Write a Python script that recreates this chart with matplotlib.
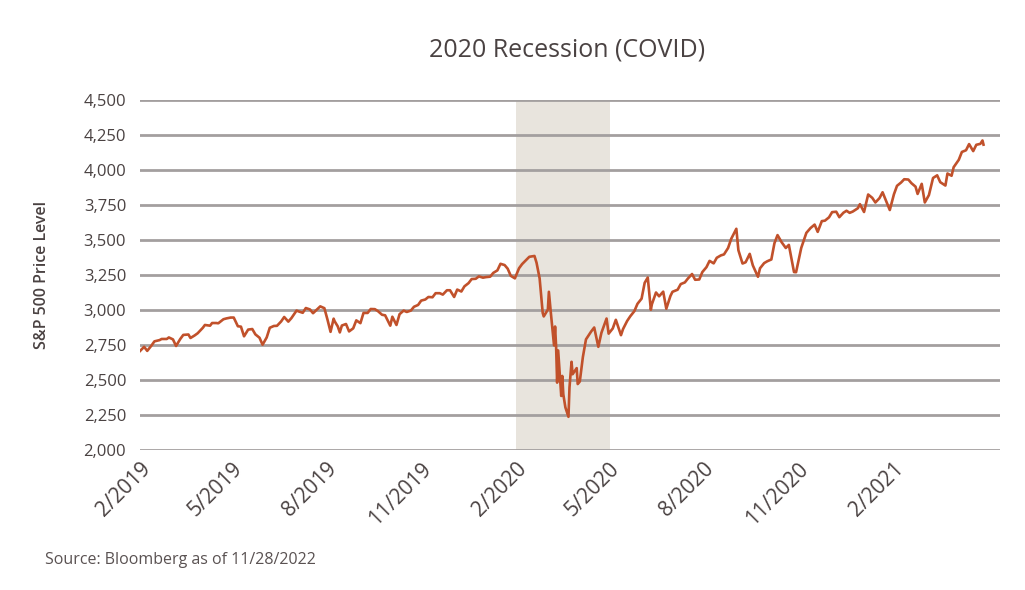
import matplotlib
matplotlib.use("Agg")
import matplotlib.pyplot as plt
import pandas as pd

# S&P 500 closes (roughly twice a week, more points around the crash)
dates = [
    "2019-02-01", "2019-02-05", "2019-02-08", "2019-02-12", "2019-02-15", "2019-02-20",
    "2019-02-22", "2019-02-27", "2019-03-01", "2019-03-05", "2019-03-08", "2019-03-12",
    "2019-03-15", "2019-03-20", "2019-03-22", "2019-03-26", "2019-03-29", "2019-04-03",
    "2019-04-05", "2019-04-10", "2019-04-12", "2019-04-16", "2019-04-18", "2019-04-23",
    "2019-04-26", "2019-04-30", "2019-05-03", "2019-05-07", "2019-05-10", "2019-05-13",
    "2019-05-17", "2019-05-21", "2019-05-24", "2019-05-28", "2019-05-31", "2019-06-04",
    "2019-06-07", "2019-06-11", "2019-06-14", "2019-06-18", "2019-06-21", "2019-06-25",
    "2019-06-28", "2019-07-03", "2019-07-05", "2019-07-09", "2019-07-12", "2019-07-16",
    "2019-07-19", "2019-07-23", "2019-07-26", "2019-07-30", "2019-08-02", "2019-08-05",
    "2019-08-08", "2019-08-09", "2019-08-12", "2019-08-14", "2019-08-16", "2019-08-20",
    "2019-08-23", "2019-08-27", "2019-08-30", "2019-09-03", "2019-09-06", "2019-09-10",
    "2019-09-13", "2019-09-17", "2019-09-20", "2019-09-24", "2019-09-27", "2019-10-02",
    "2019-10-04", "2019-10-08", "2019-10-11", "2019-10-15", "2019-10-18", "2019-10-22",
    "2019-10-25", "2019-10-29", "2019-11-01", "2019-11-05", "2019-11-08", "2019-11-12",
    "2019-11-15", "2019-11-19", "2019-11-22", "2019-11-26", "2019-11-29", "2019-12-03",
    "2019-12-06", "2019-12-10", "2019-12-13", "2019-12-17", "2019-12-20", "2019-12-24",
    "2019-12-27", "2019-12-31", "2020-01-03", "2020-01-07", "2020-01-10", "2020-01-14",
    "2020-01-17", "2020-01-21", "2020-01-24", "2020-01-27", "2020-01-31", "2020-02-04",
    "2020-02-07", "2020-02-11", "2020-02-14", "2020-02-19", "2020-02-21", "2020-02-24",
    "2020-02-27", "2020-02-28", "2020-03-03", "2020-03-04", "2020-03-06", "2020-03-09",
    "2020-03-10", "2020-03-11", "2020-03-12", "2020-03-13", "2020-03-16", "2020-03-17",
    "2020-03-18", "2020-03-20", "2020-03-23", "2020-03-24", "2020-03-26", "2020-03-27",
    "2020-03-31", "2020-04-01", "2020-04-03", "2020-04-06", "2020-04-09", "2020-04-14",
    "2020-04-17", "2020-04-21", "2020-04-24", "2020-04-29", "2020-05-01", "2020-05-05",
    "2020-05-08", "2020-05-13", "2020-05-15", "2020-05-19", "2020-05-22", "2020-05-26",
    "2020-05-29", "2020-06-02", "2020-06-05", "2020-06-08", "2020-06-11", "2020-06-12",
    "2020-06-16", "2020-06-19", "2020-06-23", "2020-06-26", "2020-06-30", "2020-07-02",
    "2020-07-07", "2020-07-10", "2020-07-14", "2020-07-17", "2020-07-21", "2020-07-24",
    "2020-07-28", "2020-07-31", "2020-08-04", "2020-08-07", "2020-08-11", "2020-08-14",
    "2020-08-18", "2020-08-21", "2020-08-25", "2020-08-28", "2020-09-02", "2020-09-04",
    "2020-09-08", "2020-09-11", "2020-09-15", "2020-09-18", "2020-09-23", "2020-09-25",
    "2020-09-29", "2020-10-02", "2020-10-06", "2020-10-09", "2020-10-12", "2020-10-16",
    "2020-10-20", "2020-10-23", "2020-10-28", "2020-10-30", "2020-11-04", "2020-11-09",
    "2020-11-13", "2020-11-17", "2020-11-20", "2020-11-24", "2020-11-27", "2020-12-01",
    "2020-12-04", "2020-12-08", "2020-12-11", "2020-12-15", "2020-12-18", "2020-12-21",
    "2020-12-24", "2020-12-29", "2020-12-31", "2021-01-04", "2021-01-08", "2021-01-12",
    "2021-01-15", "2021-01-19", "2021-01-22", "2021-01-27", "2021-01-29", "2021-02-02",
    "2021-02-05", "2021-02-09", "2021-02-12", "2021-02-16", "2021-02-19", "2021-02-23",
    "2021-02-25", "2021-03-01", "2021-03-04", "2021-03-08", "2021-03-12", "2021-03-16",
    "2021-03-19", "2021-03-24", "2021-03-26", "2021-03-30", "2021-04-01", "2021-04-06",
    "2021-04-09", "2021-04-13", "2021-04-16", "2021-04-20", "2021-04-23", "2021-04-27",
    "2021-04-29", "2021-04-30",
]
prices = [
    2707, 2737, 2708, 2745, 2776, 2785,
    2793, 2793, 2804, 2790, 2743, 2792,
    2822, 2825, 2800, 2818, 2834, 2873,
    2893, 2888, 2907, 2907, 2905, 2934,
    2940, 2946, 2946, 2884, 2881, 2812,
    2860, 2864, 2826, 2802, 2752, 2804,
    2873, 2886, 2887, 2918, 2950, 2917,
    2942, 2996, 2990, 2980, 3014, 3004,
    2977, 3005, 3026, 3013, 2932, 2844,
    2938, 2919, 2883, 2840, 2889, 2900,
    2847, 2869, 2926, 2906, 2979, 2979,
    3007, 3006, 2992, 2966, 2962, 2888,
    2952, 2893, 2970, 2996, 2986, 2996,
    3023, 3036, 3067, 3075, 3093, 3091,
    3120, 3120, 3110, 3141, 3141, 3093,
    3146, 3132, 3169, 3192, 3221, 3223,
    3240, 3231, 3235, 3238, 3265, 3283,
    3330, 3321, 3295, 3244, 3226, 3298,
    3328, 3358, 3380, 3386, 3338, 3226,
    2979, 2954, 3003, 3130, 2972, 2747,
    2882, 2741, 2481, 2711, 2386, 2529,
    2398, 2305, 2237, 2447, 2630, 2541,
    2585, 2471, 2489, 2664, 2790, 2846,
    2875, 2737, 2837, 2939, 2831, 2868,
    2930, 2820, 2864, 2922, 2955, 2992,
    3044, 3081, 3194, 3232, 3002, 3041,
    3125, 3098, 3131, 3009, 3100, 3130,
    3145, 3185, 3197, 3225, 3257, 3216,
    3218, 3271, 3306, 3351, 3333, 3373,
    3390, 3397, 3443, 3508, 3580, 3427,
    3332, 3341, 3401, 3319, 3237, 3298,
    3335, 3348, 3361, 3477, 3535, 3484,
    3443, 3465, 3271, 3270, 3443, 3551,
    3585, 3610, 3558, 3635, 3638, 3662,
    3699, 3702, 3663, 3695, 3709, 3694,
    3703, 3727, 3756, 3700, 3825, 3801,
    3768, 3799, 3841, 3751, 3714, 3826,
    3887, 3911, 3934, 3932, 3906, 3881,
    3829, 3901, 3768, 3821, 3943, 3962,
    3913, 3889, 3975, 3959, 4020, 4073,
    4129, 4141, 4185, 4135, 4180, 4187,
    4211, 4181,
]

recession_start = "2020-02-01"
recession_end = "2020-05-02"

yticks = [2000, 2250, 2500, 2750, 3000, 3250, 3500, 3750, 4000, 4250, 4500]
xticks = ["2019-02-01", "2019-05-01", "2019-08-01", "2019-11-01", "2020-02-01",
          "2020-05-01", "2020-08-01", "2020-11-01", "2021-02-01"]

TEXT = "#4a4242"
plt.rcParams['font.family'] = ['Open Sans', 'DejaVu Sans']

fig = plt.figure(figsize=(10.25, 5.9), dpi=100)
ax = fig.add_axes([0.1366, 0.2373, 0.839, 0.5932])

x = pd.to_datetime(dates)
ax.axvspan(pd.Timestamp(recession_start), pd.Timestamp(recession_end),
           color="#e8e4dd", zorder=0, lw=0)
for v in yticks:
    ax.axhline(v, color="#a39f9f", lw=2, zorder=1)
ax.plot(x, prices, color="#c1512b", lw=1.9, zorder=3)

ax.set_ylim(2000, 4500)
ax.set_xlim(pd.Timestamp("2019-02-01"), pd.Timestamp("2021-05-16"))
ax.set_yticks(yticks)
ax.set_yticklabels([f"{v:,}" for v in yticks], fontsize=12, color=TEXT)
xt = pd.to_datetime(xticks)
ax.set_xticks(xt)
ax.set_xticklabels([f"{d.month}/{d.year}" for d in xt], rotation=45, ha="right",
                   rotation_mode="anchor", fontsize=15, color=TEXT)
ax.tick_params(length=0, pad=10)
ax.tick_params(axis="x", pad=6)
for s in ax.spines.values():
    s.set_visible(False)

ax.set_ylabel("S&P 500 Price Level", fontsize=11.5, fontweight="semibold", color=TEXT,
              labelpad=24)
fig.text(0.553, 0.915, "2020 Recession (COVID)", ha="center", va="center",
         fontsize=18, color=TEXT)
fig.text(0.044, 0.05, "Source: Bloomberg as of 11/28/2022", ha="left", va="center",
         fontsize=11.5, color="#5a5252")

fig.savefig("out.png", dpi=100)
